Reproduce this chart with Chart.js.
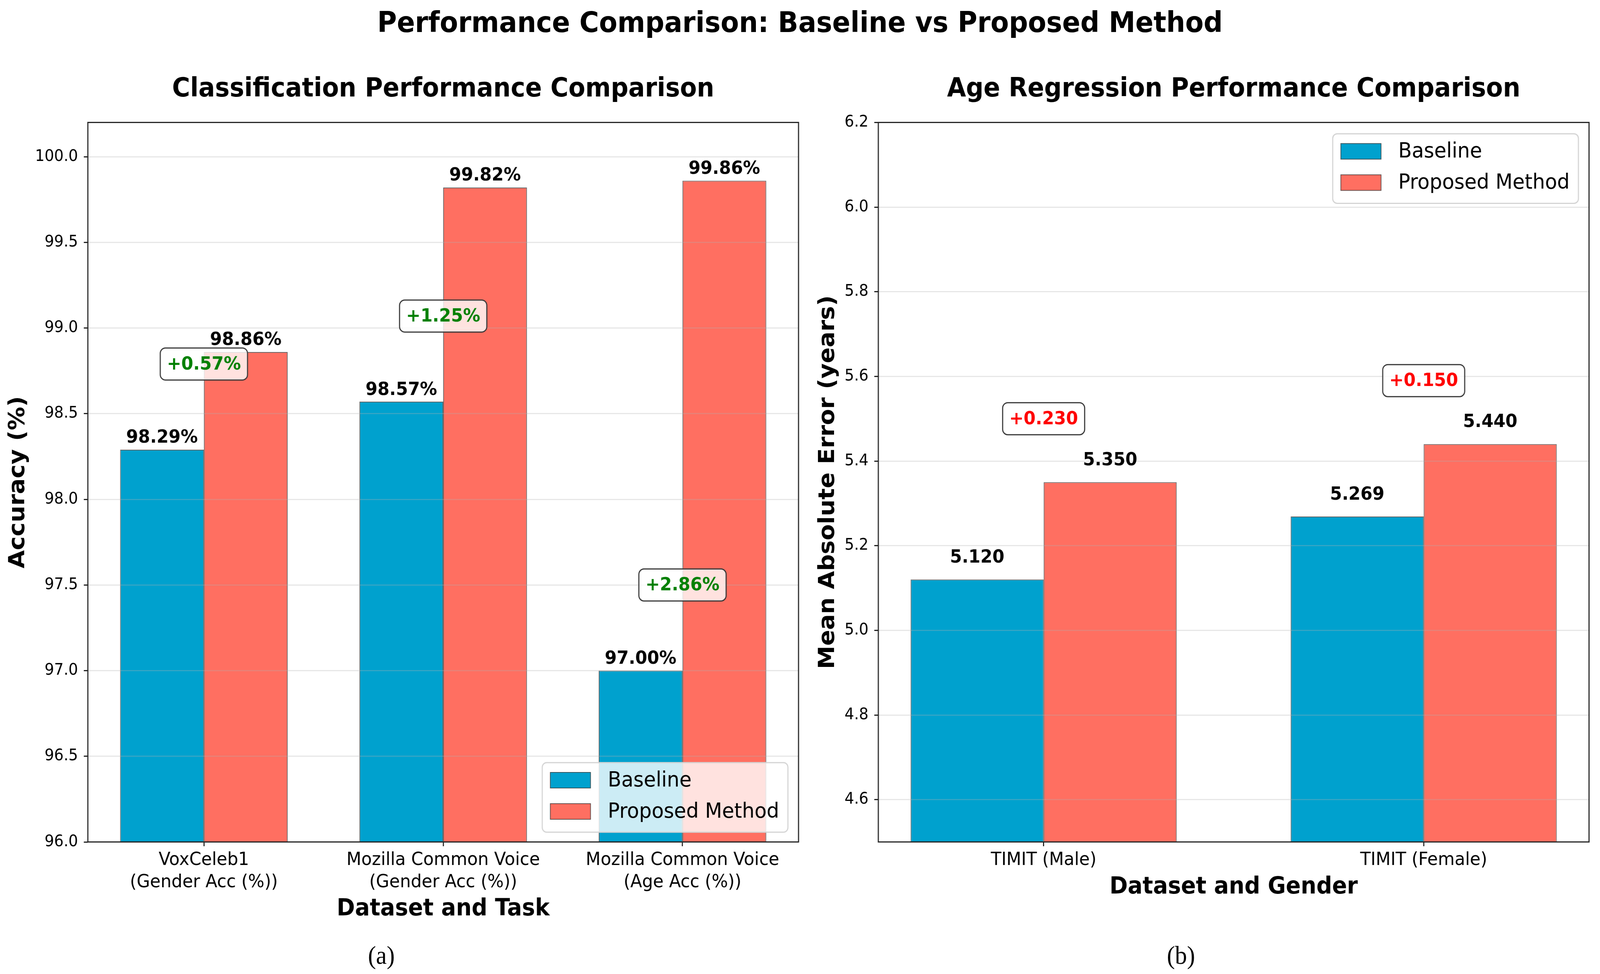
<!DOCTYPE html>
<html lang="en">
<head>
  <meta charset="UTF-8">
  <title>Performance Comparison: Baseline vs Proposed Method</title>
  <script src="https://cdn.jsdelivr.net/npm/chart.js"></script>
  <style>
    html, body { margin: 0; padding: 0; background: #fff; overflow: hidden; }
    #stage { width: 4372px; height: 2493px; position: relative; transform-origin: 0 0; font-family: 'DejaVu Sans', sans-serif; }
    #suptitle { position: absolute; left: 0; top: 20px; width: 4372px; text-align: center; font-weight: bold; font-size: 73px; line-height: 73px; }
    .panel { position: absolute; top: 150px; }
    .tag { position: absolute; top: 2405px; width: 400px; text-align: center; font-family: 'Liberation Serif', serif; font-size: 66px; line-height: 80px; }
  </style>
</head>

<body>
  <div id="stage">
    <div id="suptitle">Performance Comparison: Baseline vs Proposed Method</div>
    <canvas id="clsChart" class="panel" style="left:0" width="2200" height="2250"></canvas>
    <canvas id="ageChart" class="panel" style="left:2200px" width="2172" height="2250"></canvas>
    <div class="tag" style="left:842px">(a)</div>
    <div class="tag" style="left:3027px">(b)</div>
  </div>

  <script>
    // data
    const seriesNames = ['Baseline', 'Proposed Method'];

    const clsCategories = ['VoxCeleb1\n(Gender Acc (%))', 'Mozilla Common Voice\n(Gender Acc (%))', 'Mozilla Common Voice\n(Age Acc (%))'];
    const clsBaseline = [98.29, 98.57, 97.00];
    const clsProposed = [98.86, 99.82, 99.86];
    const clsGain = [0.57, 1.25, 2.86];
    const clsYTicks = [96.0, 96.5, 97.0, 97.5, 98.0, 98.5, 99.0, 99.5, 100.0];

    const ageCategories = ['TIMIT (Male)', 'TIMIT (Female)'];
    const ageBaseline = [5.120, 5.269];
    const ageProposed = [5.350, 5.440];
    const ageGain = [0.230, 0.150];
    const ageYTicks = [4.6, 4.8, 5.0, 5.2, 5.4, 5.6, 5.8, 6.0, 6.2];

    const colors = ['#00A1CE', '#FF6F61'];
    const edge = 'rgba(40,40,40,0.7)';

    // fit the 4372x2493 figure into whatever viewport we actually get
    const stage = document.getElementById('stage');
    stage.style.transform = `scale(${window.innerWidth / 4372}, ${window.innerHeight / 2493})`;

    Chart.defaults.font.family = 'DejaVu Sans';
    Chart.defaults.color = '#000';

    // value labels, gain boxes, legend and axes frame
    function annotator(cfg) {
      return {
        id: 'annotate',
        afterDraw(chart) {
          const ctx = chart.ctx;
          const area = chart.chartArea;
          const xs = chart.scales.x;
          const ys = chart.scales.y;
          ctx.save();

          ctx.strokeStyle = '#222';
          ctx.lineWidth = 3;
          ctx.strokeRect(area.left, area.top, area.right - area.left, area.bottom - area.top);

          ctx.font = 'bold 47px DejaVu Sans';
          ctx.fillStyle = '#000';
          ctx.textAlign = 'center';
          ctx.textBaseline = 'alphabetic';
          chart.data.datasets.forEach((ds, di) => {
            chart.getDatasetMeta(di).data.forEach((bar, i) => {
              const v = ds.data[i].y;
              ctx.fillText(cfg.valueText(v), bar.x, ys.getPixelForValue(v + 0.04));
            });
          });

          ctx.textBaseline = 'middle';
          cfg.gains.forEach((g, i) => {
            const txt = cfg.gainText(g);
            const w = ctx.measureText(txt).width + 36;
            const h = 82;
            const cx = xs.getPixelForValue(i);
            const cy = ys.getPixelForValue(cfg.gainAnchor(i));
            ctx.beginPath();
            ctx.roundRect(cx - w / 2, cy - h / 2, w, h, 14);
            ctx.fillStyle = 'rgba(255,255,255,0.8)';
            ctx.fill();
            ctx.strokeStyle = '#3a3a3a';
            ctx.lineWidth = 3;
            ctx.stroke();
            ctx.fillStyle = cfg.gainColor;
            ctx.fillText(txt, cx, cy + 2);
          });

          // legend
          ctx.font = '54px DejaVu Sans';
          const textW = Math.max(...seriesNames.map(n => ctx.measureText(n).width));
          const lw = 22 + 110 + 47 + textW + 24;
          const lh = 178;
          const lx = area.right - 29 - lw;
          const ly = cfg.legendCorner === 'lower' ? area.bottom - 25 - lh : area.top + 29;
          ctx.beginPath();
          ctx.roundRect(lx, ly, lw, lh, 12);
          ctx.fillStyle = 'rgba(255,255,255,0.8)';
          ctx.fill();
          ctx.strokeStyle = '#d4d4d4';
          ctx.lineWidth = 3;
          ctx.stroke();
          ctx.textAlign = 'left';
          chart.data.datasets.forEach((ds, di) => {
            const rowY = ly + 45 + di * 80;
            ctx.fillStyle = ds.backgroundColor;
            ctx.fillRect(lx + 22, rowY - 20, 110, 40);
            ctx.strokeStyle = ds.borderColor;
            ctx.lineWidth = 2;
            ctx.strokeRect(lx + 22, rowY - 20, 110, 40);
            ctx.fillStyle = '#000';
            ctx.fillText(ds.label, lx + 179, rowY + 2);
          });
          ctx.restore();
        }
      };
    }

    function makeChart(id, cfg) {
      const n = cfg.categories.length;
      const margin = 0.05 * (n - 1 + 0.7);
      const toPoints = arr => arr.map((v, i) => ({ x: i, y: v }));
      return new Chart(document.getElementById(id), {
        type: 'bar',
        data: {
          datasets: [
            { label: seriesNames[0], data: toPoints(cfg.baseline), backgroundColor: colors[0], borderColor: edge, borderWidth: 2 },
            { label: seriesNames[1], data: toPoints(cfg.proposed), backgroundColor: colors[1], borderColor: edge, borderWidth: 2 }
          ]
        },
        options: {
          responsive: false,
          devicePixelRatio: 1,
          animation: false,
          barPercentage: 1.0,
          categoryPercentage: 0.7,
          layout: { padding: { left: 0, right: cfg.padRight, top: 0, bottom: 0 } },
          plugins: {
            legend: { display: false },
            tooltip: { enabled: false },
            title: {
              display: true,
              text: cfg.title,
              fullSize: false,
              color: '#000',
              font: { size: 67, weight: 'bold' },
              padding: { top: 39, bottom: 44 }
            }
          },
          scales: {
            x: {
              type: 'linear',
              min: -0.35 - margin,
              max: n - 1 + 0.35 + margin,
              offset: false,
              afterBuildTicks: ax => { ax.ticks = cfg.categories.map((c, i) => ({ value: i })); },
              afterFit: ax => { ax.height = 245; },
              ticks: {
                autoSkip: false,
                maxRotation: 0,
                minRotation: 0,
                padding: 7,
                color: '#000',
                font: { size: 47, lineHeight: 1.21 },
                callback: v => cfg.categories[v].split('\n')
              },
              grid: { drawOnChartArea: false, offset: false, tickLength: 11, tickWidth: 3, tickColor: '#222' },
              border: { display: false },
              title: {
                display: true,
                text: cfg.xTitle,
                color: '#000',
                font: { size: 60, weight: 'bold' },
                padding: { top: 0, bottom: cfg.xTitlePad }
              }
            },
            y: {
              min: cfg.yMin,
              max: cfg.yMax,
              afterBuildTicks: ax => { ax.ticks = cfg.yTicks.map(v => ({ value: v })); },
              afterFit: ax => { ax.width = cfg.yAxisWidth; },
              ticks: {
                padding: 16,
                color: '#000',
                font: { size: 41 },
                callback: v => v.toFixed(1)
              },
              grid: { z: 1, color: 'rgba(176,176,176,0.3)', lineWidth: 3, tickLength: 11, tickWidth: 3, tickColor: '#222' },
              border: { display: false },
              title: {
                display: true,
                text: cfg.yTitle,
                color: '#000',
                font: { size: 60, weight: 'bold' },
                padding: { top: cfg.yTitlePad, bottom: 0 }
              }
            }
          }
        },
        plugins: [annotator(cfg)]
      });
    }

    makeChart('clsChart', {
      title: 'Classification Performance Comparison',
      categories: clsCategories,
      baseline: clsBaseline,
      proposed: clsProposed,
      gains: clsGain,
      yTicks: clsYTicks,
      yMin: 96.0,
      yMax: 100.2,
      xTitle: 'Dataset and Task',
      yTitle: 'Accuracy (%)',
      yAxisWidth: 240,
      padRight: 18,
      xTitlePad: 37,
      yTitlePad: 14,
      legendCorner: 'lower',
      valueText: v => v.toFixed(2) + '%',
      gainText: g => '+' + g.toFixed(2) + '%',
      gainColor: '#008000',
      gainAnchor: i => clsBaseline[i] + 0.5
    });

    makeChart('ageChart', {
      title: 'Age Regression Performance Comparison',
      categories: ageCategories,
      baseline: ageBaseline,
      proposed: ageProposed,
      gains: ageGain,
      yTicks: ageYTicks,
      yMin: 4.5,
      yMax: 6.2,
      xTitle: 'Dataset and Gender',
      yTitle: 'Mean Absolute Error (years)',
      yAxisWidth: 200,
      padRight: 30,
      xTitlePad: 93,
      yTitlePad: 27,
      legendCorner: 'upper',
      valueText: v => v.toFixed(3),
      gainText: g => '+' + g.toFixed(3),
      gainColor: '#FF0000',
      gainAnchor: i => ageProposed[i] + 0.15
    });
  </script>
</body>
</html>
